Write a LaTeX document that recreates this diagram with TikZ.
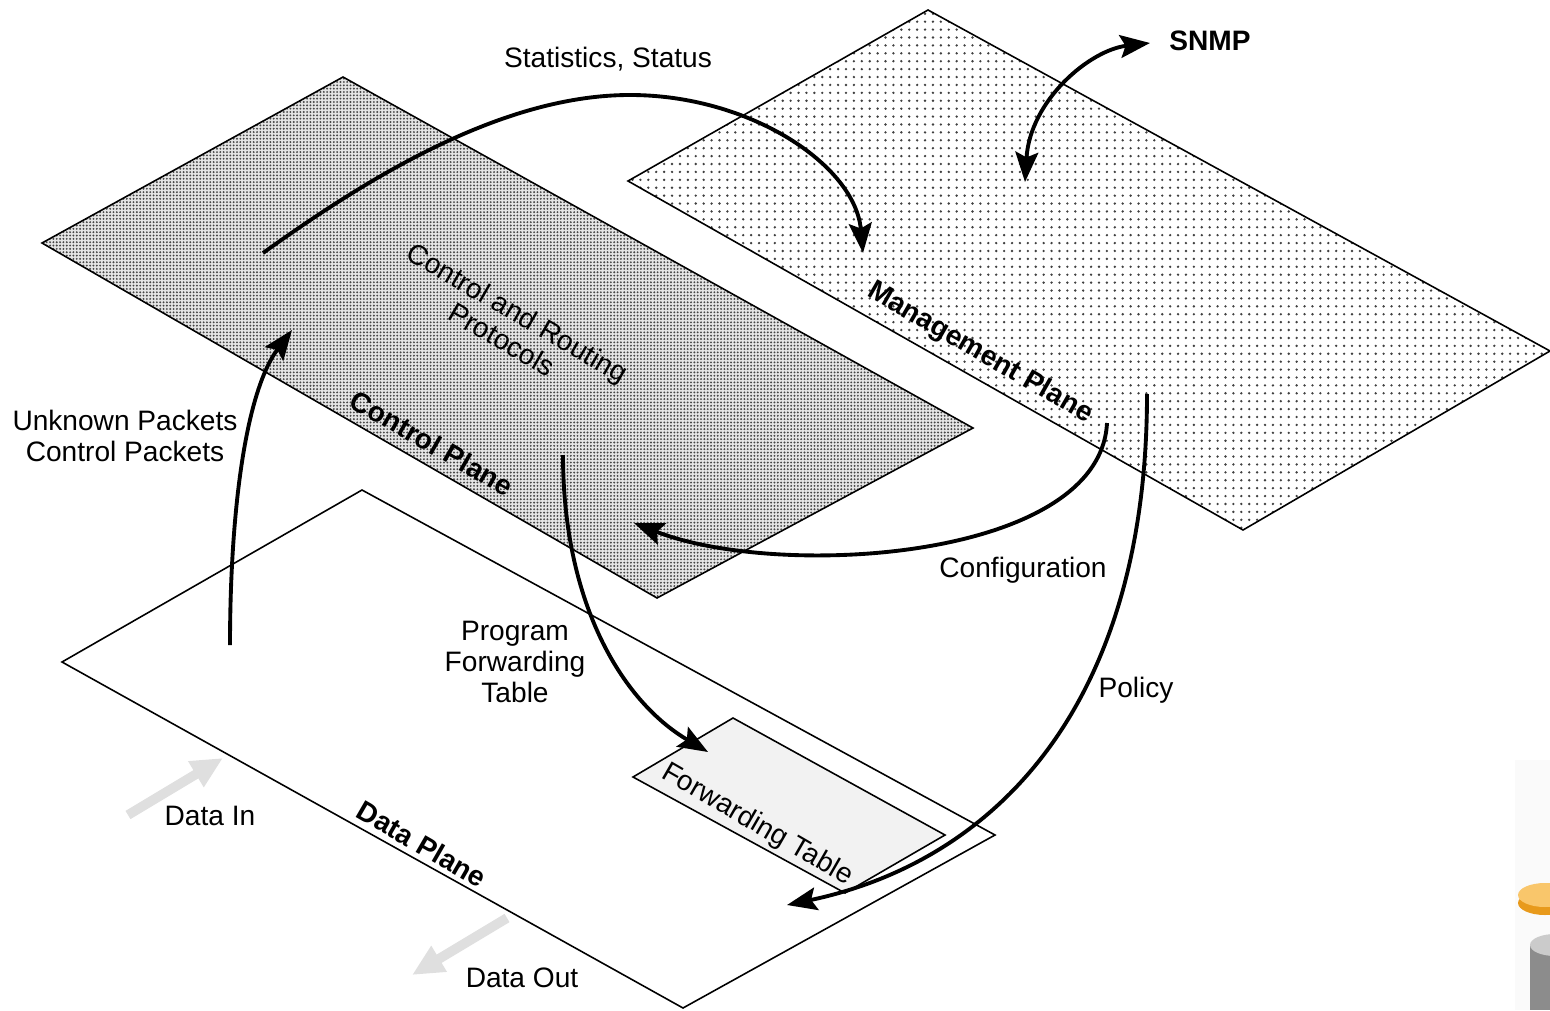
\documentclass[tikz,border=0pt]{standalone}
\usepackage{fontspec}
\setmainfont{Liberation Sans}
\usetikzlibrary{arrows.meta}
\usetikzlibrary{patterns.meta}

\definecolor{disktop}{HTML}{F9C66B}
\definecolor{diskside}{HTML}{E89A1C}
\definecolor{cyltop}{HTML}{CBCBCB}
\definecolor{cylside}{HTML}{8C8C8C}

\begin{document}
\begin{tikzpicture}[x=0.02cm, y=-0.02cm]
\tikzset{
plane/.style = {draw=black, line width=0.9pt},
lbl/.style = {font=\fontsize{16}{17.6}\selectfont, align=center, inner sep=0pt},
planelbl/.style = {lbl, font=\fontsize{16}{17.6}\selectfont\bfseries, rotate=-30},
line/.style = {draw, line width=2.2pt, -{Stealth[length=17pt, width=13pt, inset=3pt]}},
dline/.style = {line, {Stealth[length=17pt, width=13pt, inset=3pt]}-{Stealth[length=17pt, width=13pt, inset=3pt]}},
dataflow/.style = {draw=gray!25, line width=5.5pt, -{Triangle[length=18pt, width=16pt]}}
}

\useasboundingbox (0,0) rectangle (1550,1010);

% the three planes
\path [plane, preaction={fill=white}, pattern={Dots[distance=4.5pt, radius=0.75pt]}, pattern color=black!75]
  (928,10) -- (1550,351) -- (1243,530) -- (628,181) -- cycle;
\path [plane, preaction={fill=gray!20}, pattern={Dots[distance=1.9pt, radius=0.6pt]}, pattern color=gray!55!black]
  (343,77) -- (973,428) -- (657,598) -- (42,243) -- cycle;
\path [plane, fill=white] (362,490) -- (995,835) -- (683,1008) -- (62,662) -- cycle;
\path [plane, fill=black!5] (733,718) -- (945,835) -- (845,893) -- (633,777) -- cycle;

% corner icon
\fill [black!2] (1515,760) rectangle (1550,1010);
\fill [diskside] (1545,903) ellipse [x radius=27, y radius=12];
\fill [disktop] (1545,895) ellipse [x radius=27, y radius=12];
\fill [cylside] (1530,945) rectangle (1580,1010);
\fill [cyltop] (1555,945) ellipse [x radius=25, y radius=11];

% plane labels
\node [planelbl] (cplane) at (432,443) {Control Plane};
\node [planelbl] (mplane) at (980,353) {Management Plane};
\node [planelbl] (dplane) at (422,844) {Data Plane};
\node [lbl, rotate=-30] (proto) at (510,326) {Control and Routing\\Protocols};
\node [lbl, rotate=-30] (fwdtable) at (757,825) {Forwarding Table};

% flow labels
\node [lbl] (stats) at (608,59) {Statistics, Status};
\node [lbl, font=\fontsize{16}{17.6}\selectfont\bfseries] (snmp) at (1210,41) {SNMP};
\node [lbl] (unknown) at (125,436) {Unknown Packets\\Control Packets};
\node [lbl] (config) at (1023,570) {Configuration};
\node [lbl] (program) at (515,662) {Program\\Forwarding\\Table};
\node [lbl] (policy) at (1136,690) {Policy};
\node [lbl] (datain) at (210,816) {Data In};
\node [lbl] (dataout) at (522,978) {Data Out};

% arrow ends
\coordinate (statsfrom) at (263,253);
\coordinate (statstop) at (630,95);
\coordinate (statsto) at (863,253);
\coordinate (snmpfrom) at (1025,182);
\coordinate (snmpto) at (1150,43);
\coordinate (unkfrom) at (230,645);
\coordinate (unkto) at (292,330);
\coordinate (configfrom) at (1107,423);
\coordinate (configto) at (634,523);
\coordinate (progfrom) at (563,455);
\coordinate (progto) at (708,752);
\coordinate (policyfrom) at (1147,394);
\coordinate (policyto) at (787,905);
\coordinate (infrom) at (128,815);
\coordinate (into) at (223,758);
\coordinate (outfrom) at (507,918);
\coordinate (outto) at (412,975);

\path [dataflow] (infrom) -- (into);
\path [dataflow] (outfrom) -- (outto);

\path [line] (statsfrom) .. controls (365,180) and (500,95) .. (statstop)
  .. controls (750,95) and (855,165) .. (statsto);
\path [dline] (snmpfrom) .. controls (1030,100) and (1090,50) .. (snmpto);
\path [line] (unkfrom) .. controls (230,520) and (244,394) .. (unkto);
\path [line] (configfrom) .. controls (1100,560) and (780,580) .. (configto);
\path [line] (progfrom) .. controls (563,600) and (620,700) .. (progto);
\path [line] (policyfrom) .. controls (1147,700) and (1000,860) .. (policyto);
\end{tikzpicture}
\end{document}
